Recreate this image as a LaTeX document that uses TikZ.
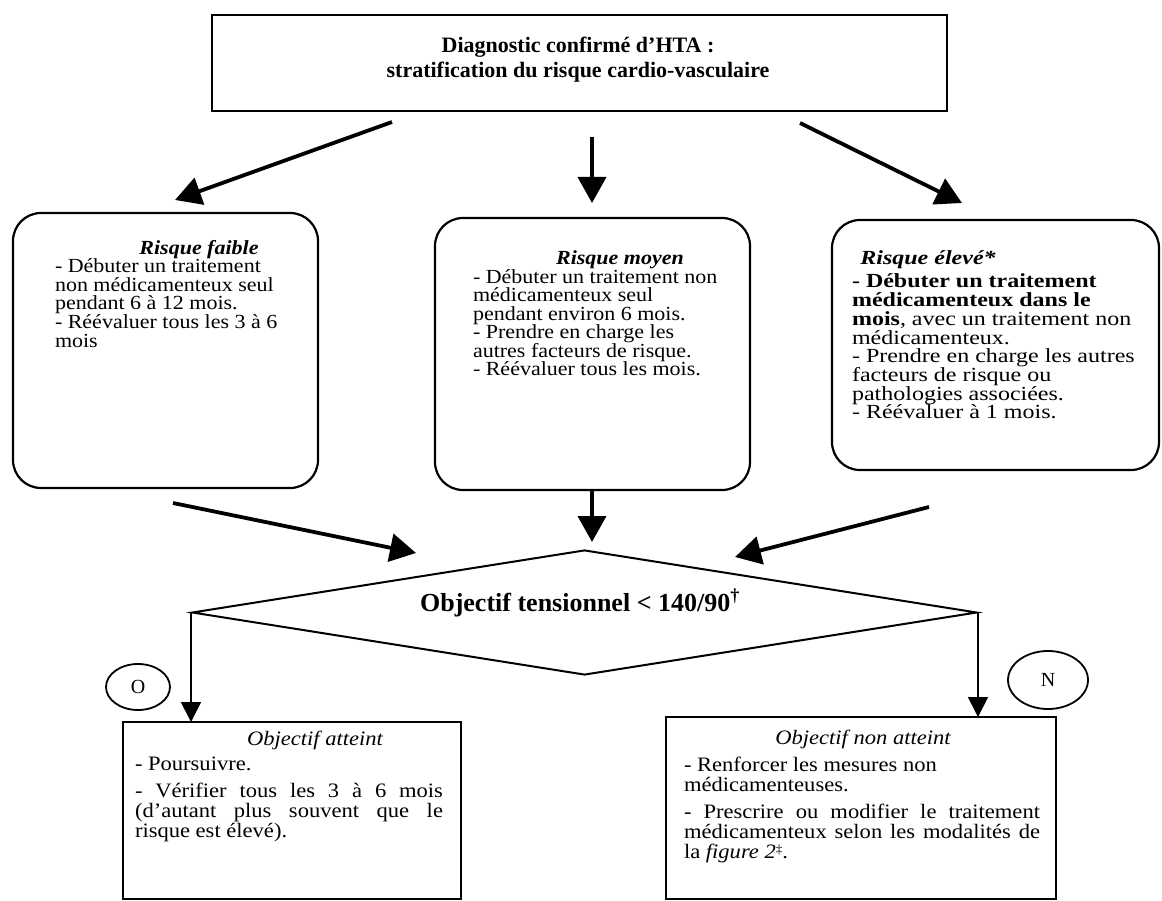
\documentclass[tikz,border=0pt]{standalone}
\usepackage{fontspec}
\setmainfont{Liberation Serif}
\newfontfamily\bodyf[FakeStretch=1.1]{Liberation Serif}
\newfontfamily\widef[FakeStretch=1.2]{Liberation Serif}
\usetikzlibrary{arrows.meta,shapes.geometric}
\newcommand\bodyfont{\bodyf\fontsize{20}{18.5}\selectfont}
\newcommand\widefont{\widef\fontsize{20}{18.5}\selectfont}
\newcommand\lowfont{\bodyf\fontsize{20.5}{20}\selectfont}
\newcommand\textlines[2]{\vtop{\baselineskip=#1\lineskiplimit=-30pt\lineskip=0pt #2}}
\newcommand\fnmark[1]{\raisebox{4.5pt}{\fontsize{12}{12}\selectfont #1}}
\begin{document}
\begin{tikzpicture}[x=1pt,y=-1pt,
  box/.style={draw, line width=2.2pt, inner sep=0pt, outer sep=0pt, anchor=north west},
  rbox/.style={box, rounded corners=28pt},
  bigarrow/.style={-{Triangle[length=26pt,width=28pt]}, line width=3.8pt},
  smallarrow/.style={-{Triangle[length=20pt,width=20pt]}, line width=1.8pt},
  txt/.style={inner sep=0pt, outer sep=0pt, anchor=base west},
  ttl/.style={inner sep=0pt, outer sep=0pt, anchor=base},
  bubble/.style={draw, ellipse, line width=1.8pt, inner sep=0pt, font=\fontsize{20}{20}\selectfont}]
\useasboundingbox[fill=white] (0,0) rectangle (1162,901);

% top box
\node[box, minimum width=735pt, minimum height=96pt] (top) at (212,15) {};
\node[ttl, font=\fontsize{22}{25}\selectfont\bfseries] (toptxt) at (578,53)
  {\textlines{25pt}{\hbox to 0pt{\hss Diagnostic confirmé d’HTA :\hss}\hbox to 0pt{\hss stratification du risque cardio-vasculaire\hss}}};

% three risk boxes
\node[rbox, minimum width=305pt, minimum height=275pt] (low) at (13,213) {};
\node[rbox, minimum width=315pt, minimum height=272pt] (mid) at (435,218) {};
\node[rbox, minimum width=327pt, minimum height=250pt] (high) at (832,220) {};

\node[ttl, font=\bodyfont\bfseries\itshape] (lowt) at (199,255) {Risque faible};
\node[txt, font=\bodyfont] (lowb) at (55,273) {\textlines{18.5pt}{%
  \hbox{- Débuter un traitement}
  \hbox{non médicamenteux seul}
  \hbox{pendant 6 à 12 mois.}
  \hbox{- Réévaluer tous les 3 à 6}
  \hbox{mois}}};

\node[ttl, font=\bodyfont\bfseries\itshape] (midt) at (620,265) {Risque moyen};
\node[txt, font=\bodyfont] (midb) at (473,283.5) {\textlines{18.5pt}{%
  \hbox{- Débuter un traitement non}
  \hbox{médicamenteux seul}
  \hbox{pendant environ 6 mois.}
  \hbox{- Prendre en charge les}
  \hbox{autres facteurs de risque.}
  \hbox{- Réévaluer tous les mois.}}};

\node[ttl, font=\widefont\bfseries\itshape] (hight) at (928,265) {Risque élevé*};
\node[txt, font=\widefont] (highb) at (852,288) {\textlines{18.7pt}{%
  \hbox{\bfseries - Débuter un traitement}
  \hbox{\bfseries médicamenteux dans le}
  \hbox{\textbf{mois}, avec un traitement non}
  \hbox{médicamenteux.}
  \hbox{- Prendre en charge les autres}
  \hbox{facteurs de risque ou}
  \hbox{pathologies associées.}
  \hbox{- Réévaluer à 1 mois.}}};

% arrows from top box
\coordinate (a1s) at (392,122); \coordinate (a1e) at (175,200);
\coordinate (a2s) at (592,137); \coordinate (a2e) at (592,203);
\coordinate (a3s) at (800,123); \coordinate (a3e) at (962,203);
\draw[bigarrow] (a1s) -- (a1e);
\draw[bigarrow] (a2s) -- (a2e);
\draw[bigarrow] (a3s) -- (a3e);

% decision diamond
\node[diamond, draw, line width=2pt, inner sep=0pt, minimum width=785pt, minimum height=125pt] (dia) at (584.5,612.5) {};
\node[ttl, font=\fontsize{26}{28}\selectfont\bfseries] (diat) at (580,611) {Objectif tensionnel < 140/90\textsuperscript{†}};

% arrows into diamond
\coordinate (b1s) at (173,503); \coordinate (b1e) at (416,553);
\coordinate (b3s) at (929,507); \coordinate (b3e) at (735,557);
\draw[bigarrow] (b1s) -- (b1e);
\draw[bigarrow] (mid.south -| a2s) -- ++(0,52);
\draw[bigarrow] (b3s) -- (b3e);

% outcome boxes
\node[box, minimum width=338pt, minimum height=177pt] (yes) at (123,722) {};
\node[box, minimum width=390pt, minimum height=182pt] (no) at (666,717) {};

\draw[smallarrow] (dia.west) -- (dia.west |- yes.north);
\draw[smallarrow] (dia.east) -- (dia.east |- no.north);

\node[bubble, minimum width=64pt, minimum height=46pt] (o) at (138,687) {O};
\node[bubble, minimum width=80pt, minimum height=58pt] (n) at (1048,680) {N};

\node[ttl, font=\lowfont\itshape] (yest) at (315,745) {Objectif atteint};
\node[txt, font=\lowfont] (yesb) at (135,770) {\textlines{20pt}{%
  \hbox{- Poursuivre.}
  \vskip 7pt
  \hbox to 308pt{- Vérifier tous les 3 à 6 mois}
  \hbox to 308pt{(d’autant plus souvent que le}
  \hbox{risque est élevé).}}};

\node[ttl, font=\lowfont\itshape] (not) at (863,744) {Objectif non atteint};
\node[txt, font=\lowfont] (nob) at (684,771) {\textlines{20pt}{%
  \hbox{- Renforcer les mesures non}
  \hbox{médicamenteuses.}
  \vskip 7pt
  \hbox to 356pt{- Prescrire ou modifier le traitement}
  \hbox to 356pt{médicamenteux selon les modalités de}
  \hbox{la \textit{figure 2}\fnmark{‡}.}}};
\end{tikzpicture}
\end{document}
